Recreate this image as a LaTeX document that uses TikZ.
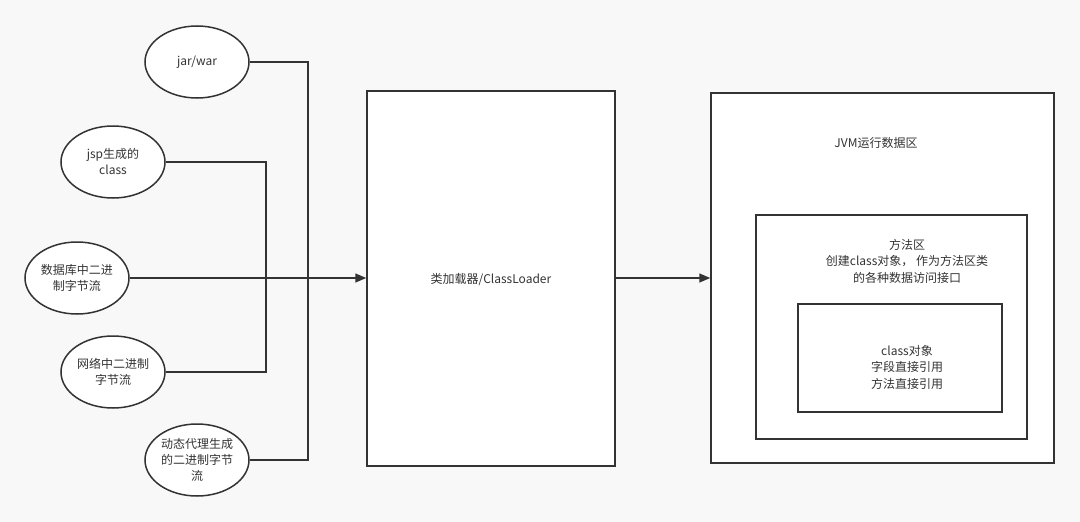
\documentclass[tikz,border=0pt]{standalone}
\usepackage{fontspec}
\setmainfont{Noto Sans CJK SC}
\usepackage{tikz}
\usetikzlibrary{shapes.geometric,arrows.meta}

\definecolor{ink}{HTML}{333333}
\definecolor{paper}{HTML}{F8F8F8}

\tikzset{
  src/.style={ellipse, draw=ink, fill=white, line width=1.5pt,
    minimum width=104pt, minimum height=72pt, inner sep=0pt,
    align=center, text=ink, font=\fontsize{12}{16}\selectfont},
  box/.style={rectangle, draw=ink, fill=white, line width=1.5pt, inner sep=0pt},
  txt/.style={align=center, text=ink, font=\fontsize{12}{16.5}\selectfont},
  wire/.style={draw=ink, line width=1.5pt},
  feed/.style={wire, -{Triangle[length=11pt,width=9pt]}}
}

\begin{document}
\begin{tikzpicture}[x=1pt,y=-1pt]

    \fill[paper] (0,0) rectangle (1080,522);
    \useasboundingbox (0,0) rectangle (1080,522);

    % sources
    \node[src] (jar) at (197,62) {jar/war};
    \node[src] (jsp) at (113,162) {jsp生成的\\class};
    \node[src] (db)  at (77,278) {数据库中二进\\制字节流};
    \node[src] (net) at (113,372) {网络中二进制\\字节流};
    \node[src] (dyn) at (197,460) {动态代理生成\\的二进制字节\\流};

    % loader
    \node[box, minimum width=248pt, minimum height=375pt] (loader) at (491,278.5) {};
    \node[txt] (loadertxt) at (491,280) {类加载器/ClassLoader};

    % jvm
    \node[box, minimum width=343pt, minimum height=370pt] (jvm) at (882.5,278) {};
    \node[txt] (jvmtxt) at (876,143) {JVM运行数据区};
    \node[box, minimum width=271pt, minimum height=224pt] (method) at (891.5,327) {};
    \node[txt] (methodtxt) at (907,261) {方法区\\创建class对象， 作为方法区类\\的各种数据访问接口};
    \node[box, minimum width=204pt, minimum height=108pt] (obj) at (900,358) {};
    \node[txt] (objtxt) at (907,367) {class对象\\字段直接引用\\方法直接引用};

    % buses
    \coordinate (outer) at (308,0);
    \coordinate (inner) at (266,0);
    \draw[wire] (jar.east) -- (jar.east -| outer) |- (dyn.east);
    \draw[wire] (jsp.east) -- (jsp.east -| inner) |- (net.east);

    \draw[feed] (db.east) -- (db.east -| loader.west);
    \draw[feed] (loader.east |- db.east) -- (db.east -| jvm.west);

\end{tikzpicture}
\end{document}
